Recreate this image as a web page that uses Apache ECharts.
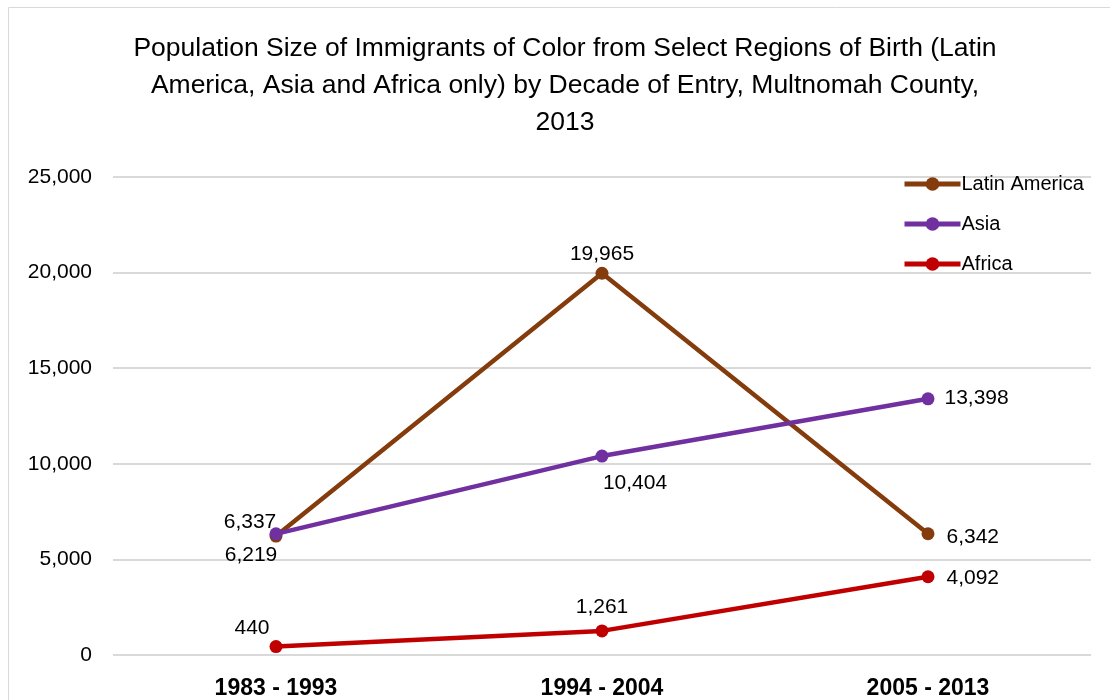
<!DOCTYPE html>
<html><head><meta charset="utf-8">
<script src="https://cdn.jsdelivr.net/npm/echarts@6/dist/echarts.min.js"></script>
<style>html,body{margin:0;padding:0;background:#fff}#c{width:1110px;height:700px}</style>
</head><body><div id="c"></div>
<script>
const categories = ['1983 - 1993', '1994 - 2004', '2005 - 2013'];
const latinAmerica = [6219, 19965, 6342];
const asia = [6337, 10404, 13398];
const africa = [440, 1261, 4092];
const yTicks = [0, 5000, 10000, 15000, 20000, 25000];

const FONT = 'Liberation Sans';
const fmt = v => v.toLocaleString('en-US');
const lbl = (pos, offset) => ({show: true, position: pos, offset: offset || [0, 0]});

function mk(values, labels) {
  return values.map((v, i) => ({value: v, label: labels[i]}));
}
const seriesColors = {'Latin America': '#843C0C', 'Asia': '#7030A0', 'Africa': '#C00000'};

const chart = echarts.init(document.getElementById('c'));
chart.setOption({
  animation: false,
  backgroundColor: '#fff',
  textStyle: {fontFamily: FONT},
  graphic: [{type: 'rect', shape: {x: 8.5, y: 7.5, width: 1200, height: 800}, style: {fill: 'none', stroke: '#d9d9d9', lineWidth: 1}, silent: true}],
  title: {
    text: 'Population Size of Immigrants of Color from Select Regions of Birth (Latin\nAmerica, Asia and Africa only) by Decade of Entry, Multnomah County,\n2013',
    left: 560, textAlign: 'center', top: 25,
    textStyle: {fontFamily: FONT, fontSize: 26.5, fontWeight: 'normal', color: '#000', lineHeight: 37}
  },
  legend: {
    orient: 'vertical', left: 897, top: 169, itemWidth: 56, itemHeight: 17, itemGap: 20,
    textStyle: {fontFamily: FONT, fontSize: 20, color: '#000', padding: [0, 0, 0, -4]},
    data: ['Latin America', 'Asia', 'Africa'].map(n => ({
      name: n,
      itemStyle: {color: seriesColors[n]},
      lineStyle: {color: seriesColors[n], width: 5}
    }))
  },
  grid: {left: 113, right: 19, top: 177, bottom: 45},
  xAxis: {
    type: 'category', data: categories, boundaryGap: true,
    axisLine: {show: false}, axisTick: {show: false},
    axisLabel: {fontFamily: FONT, fontSize: 23, fontWeight: 'bold', color: '#000', margin: 22}
  },
  yAxis: {
    type: 'value', min: yTicks[0], max: yTicks[yTicks.length - 1], interval: yTicks[1] - yTicks[0],
    axisLine: {show: false}, axisTick: {show: false},
    splitLine: {lineStyle: {color: '#d9d9d9', width: 2}},
    axisLabel: {fontFamily: FONT, fontSize: 21, color: '#000', margin: 21, formatter: v => fmt(v)}
  },
  series: [
    {
      name: 'Latin America', type: 'line', data: mk(latinAmerica, [
        lbl('bottom', [-25, -6]), lbl('top', [0, 6]), lbl('right', [4, 3])
      ]),
      color: seriesColors['Latin America'], lineStyle: {width: 4.5}, symbol: 'circle', symbolSize: 13, z: 2,
      label: {fontFamily: FONT, fontSize: 21, color: '#000', formatter: p => fmt(p.value), distance: 8}
    },
    {
      name: 'Asia', type: 'line', data: mk(asia, [
        lbl('top', [-26, 13]), lbl('bottom', [33, 2]), lbl('right', [2, -1])
      ]),
      color: seriesColors['Asia'], lineStyle: {width: 4.5}, symbol: 'circle', symbolSize: 13, z: 3,
      label: {fontFamily: FONT, fontSize: 21, color: '#000', formatter: p => fmt(p.value), distance: 8}
    },
    {
      name: 'Africa', type: 'line', data: mk(africa, [
        lbl('top', [-24, 7]), lbl('top', [0, 1]), lbl('right', [4, 1])
      ]),
      color: seriesColors['Africa'], lineStyle: {width: 4.5}, symbol: 'circle', symbolSize: 13, z: 2,
      label: {fontFamily: FONT, fontSize: 21, color: '#000', formatter: p => fmt(p.value), distance: 8}
    }
  ]
});
</script></body></html>
